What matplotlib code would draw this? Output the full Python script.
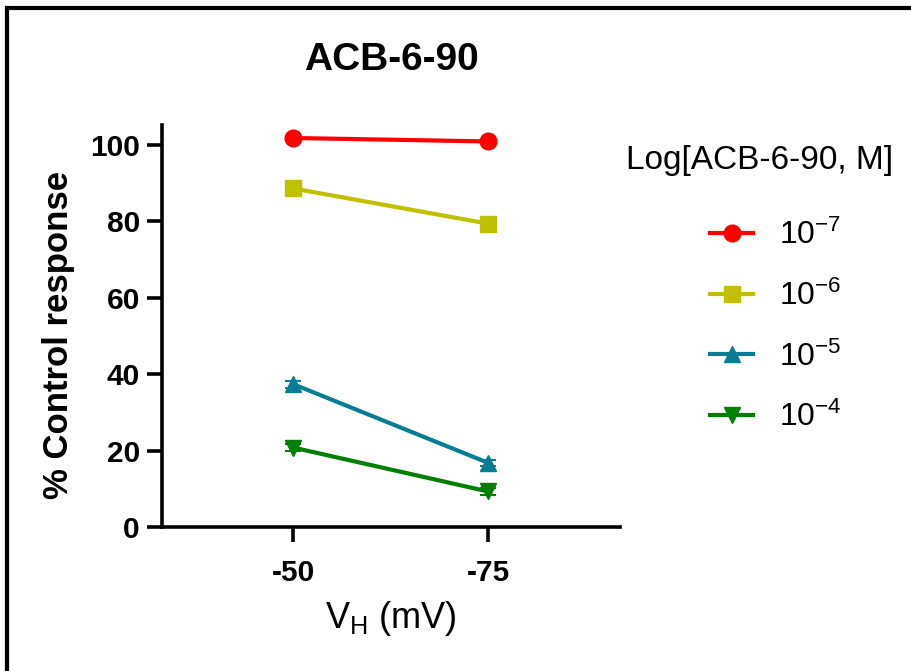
import matplotlib
matplotlib.use("Agg")
import matplotlib.pyplot as plt
from matplotlib.patches import Rectangle

plt.rcParams['font.family'] = ['Liberation Sans', 'DejaVu Sans']
plt.rcParams['mathtext.fontset'] = 'custom'
plt.rcParams['mathtext.rm'] = 'Liberation Sans'
plt.rcParams['mathtext.it'] = 'Liberation Sans'
plt.rcParams['mathtext.default'] = 'regular'

# === Data ===
vh_labels = ['-50', '-75']
conc_labels = [r'$10^{-7}$', r'$10^{-6}$', r'$10^{-5}$', r'$10^{-4}$']
resp_1e7 = [101.8, 100.9]
resp_1e6 = [88.6, 79.4]
resp_1e5 = [37.4, 16.8]
resp_1e4 = [20.8, 9.3]
err_1e7 = [0.5, 0.5]
err_1e6 = [0.5, 0.5]
err_1e5 = [0.9, 0.8]
err_1e4 = [0.9, 0.9]

series = [resp_1e7, resp_1e6, resp_1e5, resp_1e4]
errors = [err_1e7, err_1e6, err_1e5, err_1e4]
colors = ['#FF0000', '#C0C000', '#087E94', '#008000']
markers = ['o', 's', '^', 'v']
msizes = [12, 11.5, 12, 12]

fig = plt.figure(figsize=(9.12, 6.71), dpi=100)
ax = fig.add_axes([162 / 912, 144 / 671, 458 / 912, 402 / 671])

x = list(range(len(vh_labels)))
handles = []
for y, e, c, m, ms, lab in zip(series, errors, colors, markers, msizes, conc_labels):
    ax.errorbar(x, y, yerr=e, fmt='none', ecolor=c, capsize=6, capthick=1.5,
                elinewidth=1.5, clip_on=False)
    h, = ax.plot(x, y, color=c, marker=m, markersize=ms, lw=3, label=lab,
                 clip_on=False)
    handles.append(h)

ax.set_xlim(-0.672, 1.677)
ax.set_ylim(0, 105.2)
ax.set_xticks(x)
ax.set_xticklabels(vh_labels)
ax.set_yticks([0, 20, 40, 60, 80, 100])

for s in ['top', 'right']:
    ax.spines[s].set_visible(False)
for s in ['left', 'bottom']:
    ax.spines[s].set_linewidth(2.6)
ax.tick_params(width=2.6, length=11, labelsize=21.5, pad=5)
ax.tick_params(axis='x', pad=12)
for t in ax.get_xticklabels() + ax.get_yticklabels():
    t.set_fontweight('bold')

ax.set_ylabel('% Control response', fontsize=25, fontweight='bold')
ax.yaxis.set_label_coords(-0.19, 0.478)
ax.set_xlabel(r'V$_\mathregular{H}$ (mV)', fontsize=26)
ax.xaxis.set_label_coords(0.5, -0.18)
ax.text(0.5, 1.162, 'ACB-6-90', transform=ax.transAxes, ha='center', va='center',
        fontsize=28, fontweight='bold')

# legend title drawn separately so entries sit where the original has them
fig.text(760 / 912, 1 - 160 / 671, 'Log[ACB-6-90, M]', ha='center', va='center',
         fontsize=24)
ax.legend(handles=handles, loc='upper left', bbox_to_anchor=(710 / 912, 1 - 220 / 671),
          bbox_transform=fig.transFigure, frameon=False, fontsize=23,
          handlelength=1.35, labelspacing=0.92, handletextpad=0.8,
          borderpad=0, borderaxespad=0)

# frame around the figure (only left and top edges visible)
fig.patches.append(Rectangle((7.5 / 912, -0.2), 1.2, 1 - 7.5 / 671 + 0.2,
                             transform=fig.transFigure, fill=False,
                             edgecolor='black', lw=3))

fig.savefig('out.png', dpi=100)
